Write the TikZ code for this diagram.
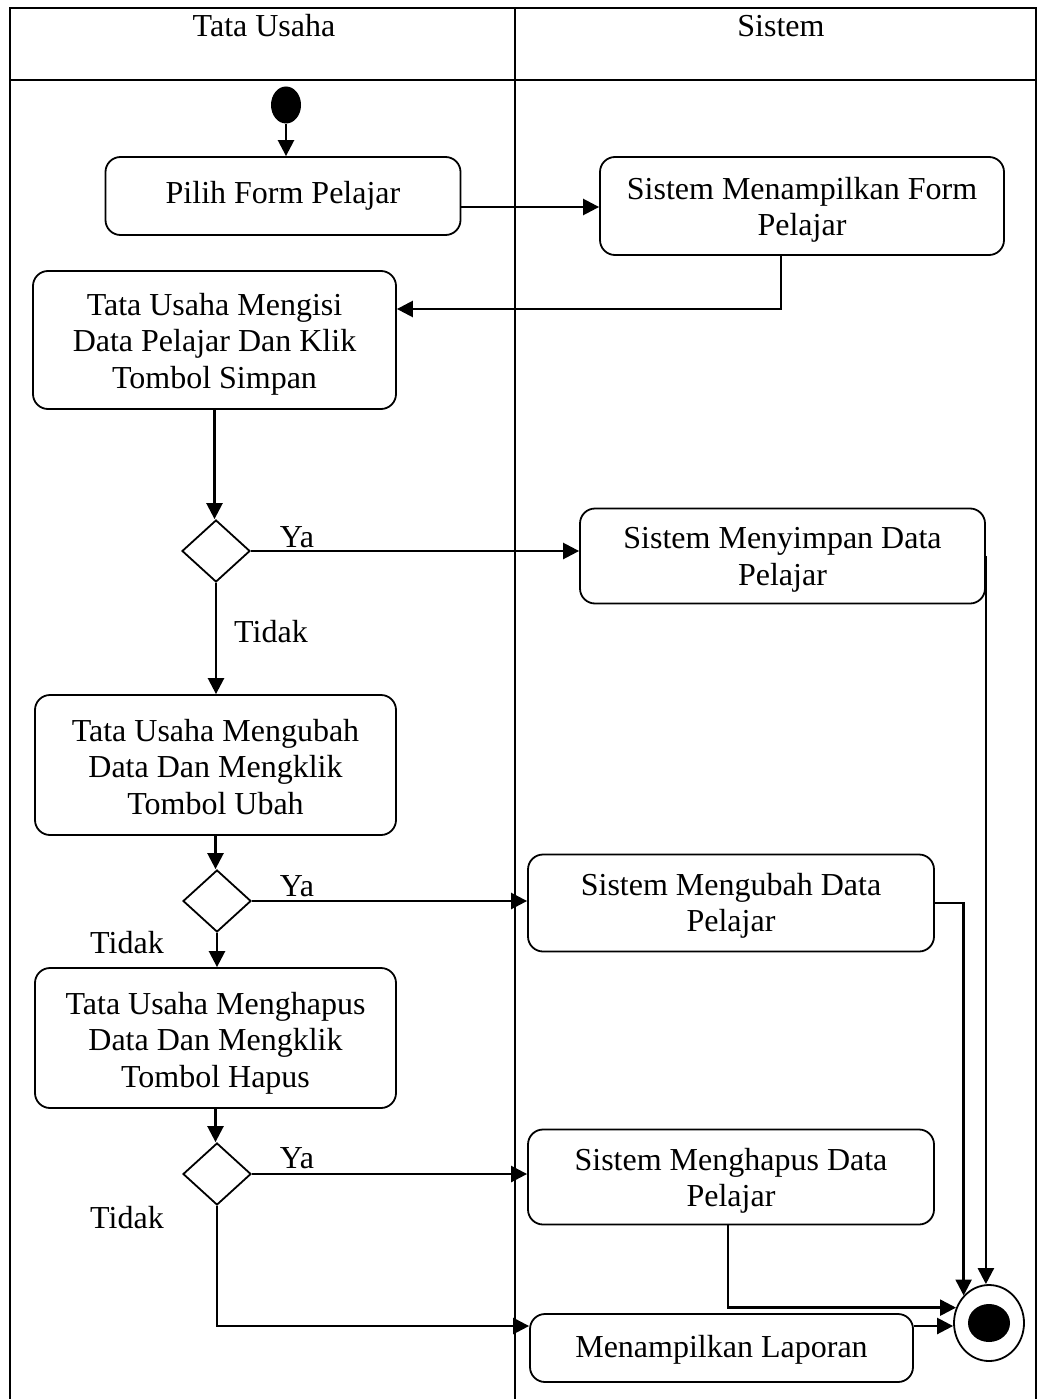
\documentclass[tikz,border=0pt]{standalone}
\usepackage{fontspec}
\setmainfont{Liberation Serif}
\usetikzlibrary{arrows.meta,shapes.geometric}
\begin{document}
\begin{tikzpicture}[x=1pt,y=-1pt,
  every node/.style={font=\fontsize{32}{36.5}\selectfont},
  act/.style={draw, rounded corners=15pt, line width=1.8pt, inner sep=0pt},
  txt/.style={align=center, inner sep=0pt},
  flow/.style={line width=2.5pt, -{Triangle[length=16pt,width=16pt]}},
  dec/.style={draw, diamond, line width=1.8pt, minimum width=68pt, minimum height=62pt, inner sep=0pt},
  lbl/.style={inner sep=0pt}
]
\useasboundingbox (0,0) rectangle (1038,1399);

% swimlane frame
\draw[line width=2pt] (10,1399) -- (10,8) -- (1036,8) -- (1036,1399);
\draw[line width=2pt] (10,80) -- (1036,80);
\draw[line width=1.4pt] (515,8) -- (515,1399);
\node[lbl] (laneA) at (264,26) {Tata Usaha};
\node[lbl] (laneB) at (781,26) {Sistem};

% action boxes
\node[fill, ellipse, minimum width=30pt, minimum height=37pt, inner sep=0pt] (start) at (286,105) {};
\node[act, minimum width=355pt, minimum height=78pt] (pilih) at (283,196) {};
\node[act, minimum width=404pt, minimum height=98pt] (tampil) at (802,206) {};
\node[act, minimum width=363pt, minimum height=138pt] (isi) at (214.5,340) {};
\node[dec] (d1) at (216,551) {};
\node[act, minimum width=405pt, minimum height=95pt] (simpan) at (782.5,556) {};
\node[act, minimum width=361pt, minimum height=140pt] (ubah) at (215.5,765) {};
\node[dec] (d2) at (217,901) {};
\node[act, minimum width=406pt, minimum height=97pt] (subah) at (731,903) {};
\node[act, minimum width=361pt, minimum height=140pt] (hapus) at (215.5,1038) {};
\node[dec] (d3) at (217,1174) {};
\node[act, minimum width=406pt, minimum height=95pt] (shapus) at (731,1177) {};
\node[act, minimum width=383pt, minimum height=68pt] (lapor) at (721.5,1348) {};
\node[draw, ellipse, line width=1.8pt, minimum width=70pt, minimum height=76pt, inner sep=0pt] (end) at (989,1323) {};
\node[fill, ellipse, minimum width=42pt, minimum height=38pt, inner sep=0pt] (endcore) at (end) {};

% action texts
\node[txt] (pilih-t) at (pilih) {Pilih Form Pelajar};
\node[txt] (tampil-t) at ([yshift=-4pt]tampil) {Sistem Menampilkan Form\\Pelajar};
\node[txt] (isi-t) at ([yshift=-4pt]isi) {Tata Usaha Mengisi\\Data Pelajar Dan Klik\\Tombol Simpan};
\node[txt] (simpan-t) at ([yshift=-4pt]simpan) {Sistem Menyimpan Data\\Pelajar};
\node[txt] (ubah-t) at ([yshift=-2pt]ubah) {Tata Usaha Mengubah\\Data Dan Mengklik\\Tombol Ubah};
\node[txt] (subah-t) at ([yshift=-3pt]subah) {Sistem Mengubah Data\\Pelajar};
\node[txt] (hapus-t) at ([yshift=-5pt]hapus) {Tata Usaha Menghapus\\Data Dan Mengklik\\Tombol Hapus};
\node[txt] (shapus-t) at ([yshift=-4pt]shapus) {Sistem Menghapus Data\\Pelajar};
\node[txt] (lapor-t) at ([yshift=-2pt]lapor) {Menampilkan Laporan};

% guard labels
\node[lbl] (ya1) at (297,537) {Ya};
\node[lbl] (tidak1) at (271,632) {Tidak};
\node[lbl] (ya2) at (297,886) {Ya};
\node[lbl] (tidak2) at (127,943) {Tidak};
\node[lbl] (ya3) at (297,1158) {Ya};
\node[lbl] (tidak3) at (127,1218) {Tidak};

% connection points
\coordinate (p1) at ([yshift=-11pt]pilih.east);
\coordinate (q1) at ([yshift=31pt]isi.east);
\coordinate (l1) at ([yshift=22pt]lapor.west);
\coordinate (l2) at ([yshift=22pt]lapor.east);

% flows
\draw[flow] (start.south) -- (start.south |- pilih.north);
\draw[flow] (p1) -- (p1 -| tampil.west);
\draw[flow] ([xshift=-21pt]tampil.south) |- (q1);
\draw[flow] (isi.south) -- (isi.south |- d1.north);
\draw[flow] (d1.east) -- (simpan.west |- d1.east);
\draw[flow] (d1.south) -- (d1.south |- ubah.north);
\draw[flow] (simpan.east) -- (simpan.east |- end.north);
\draw[flow] (ubah.south) -- (ubah.south |- d2.north);
\draw[flow] (d2.east) -- (subah.west |- d2.east);
\draw[flow] (d2.south) -- (d2.south |- hapus.north);
\draw[flow] (subah.east) -| (end.north west);
\draw[flow] (hapus.south) -- (hapus.south |- d3.north);
\draw[flow] (d3.east) -- (shapus.west |- d3.east);
\draw[flow] ([xshift=-3pt]shapus.south) |- (end.155);
\draw[flow] (d3.south) |- (l1);
\draw[flow] (l2) -- (l2 -| end.west);
\end{tikzpicture}
\end{document}
